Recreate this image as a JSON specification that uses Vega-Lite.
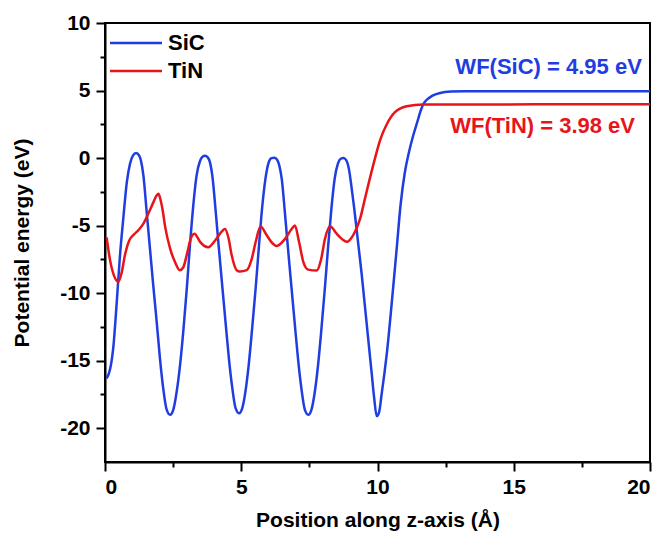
{
  "$schema": "https://vega.github.io/schema/vega-lite/v6.json",
  "width": 545,
  "height": 439,
  "autosize": {"type": "none"},
  "padding": {"left": 105, "top": 23, "right": 12, "bottom": 76},
  "background": "white",
  "config": {
    "view": {"stroke": "black", "strokeWidth": 2},
    "font": "Liberation Sans",
    "axis": {"grid": false, "domainColor": "black", "tickColor": "black", "domainWidth": 2, "tickWidth": 2, "labelColor": "black", "titleColor": "black"}
  },
  "datasets": {
    "curves": [
      {"series": "SiC", "z": 0.06, "e": -16.3},
      {"series": "SiC", "z": 0.15, "e": -15.9},
      {"series": "SiC", "z": 0.21, "e": -15.4},
      {"series": "SiC", "z": 0.31, "e": -13.9},
      {"series": "SiC", "z": 0.43, "e": -10.7},
      {"series": "SiC", "z": 0.55, "e": -7.2},
      {"series": "SiC", "z": 0.67, "e": -4.5},
      {"series": "SiC", "z": 0.8, "e": -1.8},
      {"series": "SiC", "z": 0.92, "e": -0.4},
      {"series": "SiC", "z": 1.03, "e": 0.2},
      {"series": "SiC", "z": 1.14, "e": 0.38},
      {"series": "SiC", "z": 1.25, "e": 0.2},
      {"series": "SiC", "z": 1.32, "e": -0.2},
      {"series": "SiC", "z": 1.41, "e": -1.3},
      {"series": "SiC", "z": 1.53, "e": -4.0},
      {"series": "SiC", "z": 1.65, "e": -6.7},
      {"series": "SiC", "z": 1.77, "e": -9.4},
      {"series": "SiC", "z": 1.9, "e": -12.2},
      {"series": "SiC", "z": 2.02, "e": -14.9},
      {"series": "SiC", "z": 2.14, "e": -17.1},
      {"series": "SiC", "z": 2.26, "e": -18.6},
      {"series": "SiC", "z": 2.39, "e": -19.0},
      {"series": "SiC", "z": 2.51, "e": -18.6},
      {"series": "SiC", "z": 2.63, "e": -17.3},
      {"series": "SiC", "z": 2.75, "e": -15.4},
      {"series": "SiC", "z": 2.87, "e": -12.9},
      {"series": "SiC", "z": 3.0, "e": -9.7},
      {"series": "SiC", "z": 3.12, "e": -6.4},
      {"series": "SiC", "z": 3.24, "e": -3.5},
      {"series": "SiC", "z": 3.36, "e": -1.3},
      {"series": "SiC", "z": 3.49, "e": -0.2},
      {"series": "SiC", "z": 3.58, "e": 0.1},
      {"series": "SiC", "z": 3.67, "e": 0.17},
      {"series": "SiC", "z": 3.77, "e": 0.05},
      {"series": "SiC", "z": 3.85, "e": -0.3},
      {"series": "SiC", "z": 3.95, "e": -1.5},
      {"series": "SiC", "z": 4.06, "e": -3.9},
      {"series": "SiC", "z": 4.18, "e": -6.7},
      {"series": "SiC", "z": 4.3, "e": -9.4},
      {"series": "SiC", "z": 4.43, "e": -12.3},
      {"series": "SiC", "z": 4.55, "e": -14.9},
      {"series": "SiC", "z": 4.67, "e": -17.0},
      {"series": "SiC", "z": 4.79, "e": -18.5},
      {"series": "SiC", "z": 4.92, "e": -18.9},
      {"series": "SiC", "z": 5.04, "e": -18.5},
      {"series": "SiC", "z": 5.16, "e": -17.2},
      {"series": "SiC", "z": 5.28, "e": -15.2},
      {"series": "SiC", "z": 5.4, "e": -12.6},
      {"series": "SiC", "z": 5.53, "e": -9.6},
      {"series": "SiC", "z": 5.65, "e": -6.5},
      {"series": "SiC", "z": 5.77, "e": -3.6},
      {"series": "SiC", "z": 5.89, "e": -1.5},
      {"series": "SiC", "z": 6.01, "e": -0.3},
      {"series": "SiC", "z": 6.11, "e": 0.0},
      {"series": "SiC", "z": 6.21, "e": 0.03},
      {"series": "SiC", "z": 6.31, "e": -0.1},
      {"series": "SiC", "z": 6.39, "e": -0.5},
      {"series": "SiC", "z": 6.49, "e": -1.6},
      {"series": "SiC", "z": 6.6, "e": -4.0},
      {"series": "SiC", "z": 6.72, "e": -6.8},
      {"series": "SiC", "z": 6.84, "e": -9.5},
      {"series": "SiC", "z": 6.97, "e": -12.4},
      {"series": "SiC", "z": 7.09, "e": -15.0},
      {"series": "SiC", "z": 7.21, "e": -17.1},
      {"series": "SiC", "z": 7.33, "e": -18.6},
      {"series": "SiC", "z": 7.46, "e": -19.0},
      {"series": "SiC", "z": 7.58, "e": -18.6},
      {"series": "SiC", "z": 7.7, "e": -17.3},
      {"series": "SiC", "z": 7.82, "e": -15.3},
      {"series": "SiC", "z": 7.94, "e": -12.7},
      {"series": "SiC", "z": 8.07, "e": -9.6},
      {"series": "SiC", "z": 8.19, "e": -6.5},
      {"series": "SiC", "z": 8.31, "e": -3.7},
      {"series": "SiC", "z": 8.43, "e": -1.5},
      {"series": "SiC", "z": 8.55, "e": -0.4},
      {"series": "SiC", "z": 8.65, "e": -0.05},
      {"series": "SiC", "z": 8.75, "e": 0.0},
      {"series": "SiC", "z": 8.85, "e": -0.15},
      {"series": "SiC", "z": 8.95, "e": -0.8},
      {"series": "SiC", "z": 9.05, "e": -2.2},
      {"series": "SiC", "z": 9.15, "e": -3.8},
      {"series": "SiC", "z": 9.24, "e": -5.4},
      {"series": "SiC", "z": 9.33, "e": -7.0},
      {"series": "SiC", "z": 9.42, "e": -8.6},
      {"series": "SiC", "z": 9.51, "e": -10.4},
      {"series": "SiC", "z": 9.6, "e": -12.2},
      {"series": "SiC", "z": 9.7, "e": -14.2},
      {"series": "SiC", "z": 9.79, "e": -16.0},
      {"series": "SiC", "z": 9.88, "e": -17.8},
      {"series": "SiC", "z": 9.97, "e": -19.1},
      {"series": "SiC", "z": 10.06, "e": -18.8},
      {"series": "SiC", "z": 10.15, "e": -17.5},
      {"series": "SiC", "z": 10.25, "e": -16.0},
      {"series": "SiC", "z": 10.34, "e": -14.5},
      {"series": "SiC", "z": 10.52, "e": -10.8},
      {"series": "SiC", "z": 10.7, "e": -6.8},
      {"series": "SiC", "z": 10.85, "e": -3.4},
      {"series": "SiC", "z": 11.0, "e": -1.1},
      {"series": "SiC", "z": 11.15, "e": 0.4},
      {"series": "SiC", "z": 11.3, "e": 1.6},
      {"series": "SiC", "z": 11.45, "e": 2.6},
      {"series": "SiC", "z": 11.6, "e": 3.6},
      {"series": "SiC", "z": 11.7, "e": 4.05},
      {"series": "SiC", "z": 11.8, "e": 4.3},
      {"series": "SiC", "z": 12.0, "e": 4.6},
      {"series": "SiC", "z": 12.3, "e": 4.82},
      {"series": "SiC", "z": 12.7, "e": 4.92},
      {"series": "SiC", "z": 13.2, "e": 4.95},
      {"series": "SiC", "z": 20.0, "e": 4.95},
      {"series": "TiN", "z": 0.06, "e": -5.87},
      {"series": "TiN", "z": 0.18, "e": -7.5},
      {"series": "TiN", "z": 0.33, "e": -8.7},
      {"series": "TiN", "z": 0.49, "e": -9.15},
      {"series": "TiN", "z": 0.61, "e": -8.5},
      {"series": "TiN", "z": 0.73, "e": -7.2},
      {"series": "TiN", "z": 0.89, "e": -6.1},
      {"series": "TiN", "z": 1.04, "e": -5.7},
      {"series": "TiN", "z": 1.22, "e": -5.35},
      {"series": "TiN", "z": 1.41, "e": -4.85},
      {"series": "TiN", "z": 1.59, "e": -4.1},
      {"series": "TiN", "z": 1.77, "e": -3.3},
      {"series": "TiN", "z": 1.9, "e": -2.75},
      {"series": "TiN", "z": 1.96, "e": -2.65},
      {"series": "TiN", "z": 2.04, "e": -3.1},
      {"series": "TiN", "z": 2.12, "e": -3.9},
      {"series": "TiN", "z": 2.2, "e": -5.0},
      {"series": "TiN", "z": 2.39, "e": -6.7},
      {"series": "TiN", "z": 2.57, "e": -7.7},
      {"series": "TiN", "z": 2.75, "e": -8.3},
      {"series": "TiN", "z": 2.87, "e": -8.1},
      {"series": "TiN", "z": 3.02, "e": -7.0},
      {"series": "TiN", "z": 3.14, "e": -6.0},
      {"series": "TiN", "z": 3.28, "e": -5.6},
      {"series": "TiN", "z": 3.49, "e": -6.2},
      {"series": "TiN", "z": 3.64, "e": -6.5},
      {"series": "TiN", "z": 3.79, "e": -6.6},
      {"series": "TiN", "z": 4.04, "e": -6.1},
      {"series": "TiN", "z": 4.28, "e": -5.45},
      {"series": "TiN", "z": 4.4, "e": -5.25},
      {"series": "TiN", "z": 4.53, "e": -5.9},
      {"series": "TiN", "z": 4.65, "e": -7.2},
      {"series": "TiN", "z": 4.83, "e": -8.3},
      {"series": "TiN", "z": 4.95, "e": -8.4},
      {"series": "TiN", "z": 5.2, "e": -8.3},
      {"series": "TiN", "z": 5.38, "e": -7.5},
      {"series": "TiN", "z": 5.53, "e": -6.2},
      {"series": "TiN", "z": 5.71, "e": -5.07},
      {"series": "TiN", "z": 5.93, "e": -5.7},
      {"series": "TiN", "z": 6.1, "e": -6.2},
      {"series": "TiN", "z": 6.3, "e": -6.5},
      {"series": "TiN", "z": 6.6, "e": -6.0},
      {"series": "TiN", "z": 6.85, "e": -5.25},
      {"series": "TiN", "z": 6.97, "e": -5.0},
      {"series": "TiN", "z": 7.12, "e": -6.2},
      {"series": "TiN", "z": 7.28, "e": -7.7},
      {"series": "TiN", "z": 7.46, "e": -8.26},
      {"series": "TiN", "z": 7.77, "e": -8.33},
      {"series": "TiN", "z": 7.93, "e": -7.5},
      {"series": "TiN", "z": 8.07, "e": -6.0},
      {"series": "TiN", "z": 8.26, "e": -5.05},
      {"series": "TiN", "z": 8.5, "e": -5.6},
      {"series": "TiN", "z": 8.7, "e": -6.0},
      {"series": "TiN", "z": 8.87, "e": -6.2},
      {"series": "TiN", "z": 9.11, "e": -5.7},
      {"series": "TiN", "z": 9.36, "e": -4.5},
      {"series": "TiN", "z": 9.54, "e": -3.0},
      {"series": "TiN", "z": 9.72, "e": -1.5},
      {"series": "TiN", "z": 9.91, "e": 0.0},
      {"series": "TiN", "z": 10.09, "e": 1.3},
      {"series": "TiN", "z": 10.34, "e": 2.5},
      {"series": "TiN", "z": 10.64, "e": 3.4},
      {"series": "TiN", "z": 11.07, "e": 3.84},
      {"series": "TiN", "z": 11.68, "e": 3.97},
      {"series": "TiN", "z": 20.0, "e": 3.98}
    ]
  },
  "data": {"name": "curves"},
  "layer": [
    {
      "mark": {"type": "line", "strokeOpacity": 0},
      "encoding": {
        "x": {"field": "z", "type": "quantitative", "scale": {"domain": [0, 20], "nice": false, "zero": false},
              "axis": {"orient": "bottom", "values": [2.5, 7.5, 12.5, 17.5], "labels": false, "domain": false, "tickSize": 5, "title": null}},
        "y": {"field": "e", "type": "quantitative", "scale": {"domain": [-22.5, 10], "nice": false, "zero": false},
              "axis": {"orient": "left", "values": [-17.5, -12.5, -7.5, -2.5, 2.5, 7.5], "labels": false, "domain": false, "tickSize": 5, "title": null}},
        "detail": {"field": "series"}
      }
    },
    {
      "mark": {"type": "line", "strokeWidth": 2.5, "interpolate": "monotone"},
      "encoding": {
        "x": {"field": "z", "type": "quantitative",
              "axis": {"orient": "bottom", "values": [0, 5, 10, 15, 20], "tickSize": 9, "labelFontSize": 21, "labelFontWeight": "bold", "labelPadding": 5,
                       "title": "Position along z-axis (Å)", "titleFontSize": 21, "titleFontWeight": "bold", "titlePadding": 12}},
        "y": {"field": "e", "type": "quantitative",
              "axis": {"orient": "left", "values": [-20, -15, -10, -5, 0, 5, 10], "tickSize": 9, "labelFontSize": 21, "labelFontWeight": "bold", "labelPadding": 6,
                       "labelExpr": "datum.value < 0 ? '-' + abs(datum.value) : '' + datum.value",
                       "title": "Potential energy (eV)", "titleFontSize": 21, "titleFontWeight": "bold", "titlePadding": 27}},
        "color": {"field": "series", "type": "nominal",
                  "scale": {"domain": ["SiC", "TiN"], "range": ["#1f3de0", "#e8141a"]},
                  "legend": {"orient": "none", "legendX": 20, "legendY": 9, "title": null, "symbolType": "M-5.2,0H5.2", "symbolSize": 100,
                             "symbolStrokeWidth": 2.5, "labelFontSize": 22, "labelFontWeight": "bold", "labelColor": "black", "labelOffset": 21, "rowPadding": 6}}
      }
    },
    {
      "data": {"values": [{"label": "WF(SiC) = 4.95 eV"}]},
      "mark": {"type": "text", "align": "right", "baseline": "middle", "fontSize": 22, "fontWeight": "bold", "color": "#1f3de0"},
      "encoding": {"text": {"field": "label"}, "x": {"datum": 19.7, "type": "quantitative", "axis": null}, "y": {"datum": 6.74, "type": "quantitative", "axis": null}}
    },
    {
      "data": {"values": [{"label": "WF(TiN) = 3.98 eV"}]},
      "mark": {"type": "text", "align": "right", "baseline": "middle", "fontSize": 22, "fontWeight": "bold", "color": "#e8141a"},
      "encoding": {"text": {"field": "label"}, "x": {"datum": 19.45, "type": "quantitative", "axis": null}, "y": {"datum": 2.4, "type": "quantitative", "axis": null}}
    }
  ],
  "resolve": {"axis": {"x": "independent", "y": "independent"}}
}
